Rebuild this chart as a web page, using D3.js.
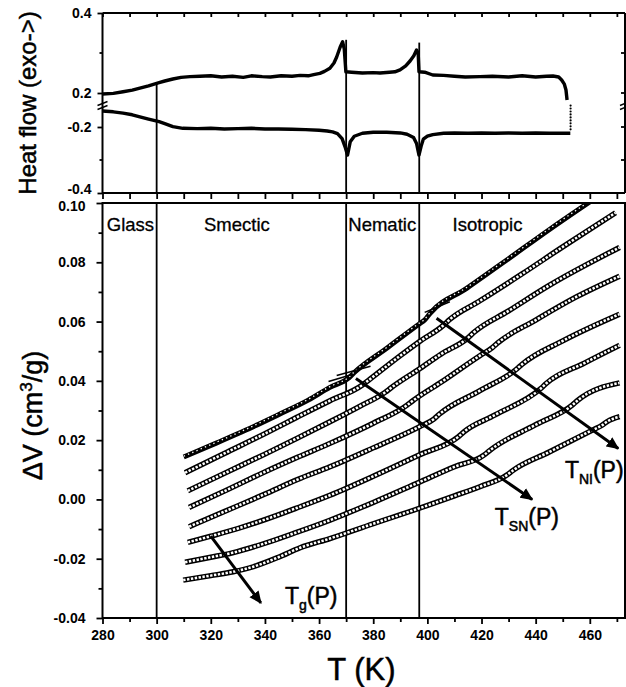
<!DOCTYPE html>
<html><head><meta charset="utf-8">
<script src="https://cdn.jsdelivr.net/npm/d3@7"></script>
<style>
html,body{margin:0;padding:0;background:#fff;}
svg text{font-family:"Liberation Sans",Arial,Helvetica,sans-serif;fill:#000;}
</style></head>
<body><svg id="chart" width="626" height="687"></svg>
<script>
// ---------- DATA ----------
const xTickLabels = [280, 300, 320, 340, 360, 380, 400, 420, 440, 460];
const xMinorTicks = [290, 310, 330, 350, 370, 390, 410, 430, 450, 470];
const dvTickLabels = [-0.04, -0.02, 0.00, 0.02, 0.04, 0.06, 0.08, 0.10];
const dvMinorTicks = [-0.03, -0.01, 0.01, 0.03, 0.05, 0.07, 0.09];
const hfUpperTicks = [0.2, 0.4];
const hfLowerTicks = [-0.4, -0.2];
const hfMinorTicks = [0.3, -0.3];
const transitionT = [300, 370, 397];          // vertical lines (K)
const transitionTopHF = [0.226, 0.333, 0.326]; // where the lines start in the DSC panel
const phaseNames = ["Glass", "Smectic", "Nematic", "Isotropic"];
const phaseNameT = [281.6, 317.5, 370.8, 409.3];

// DSC heating trace (upper branch)
const heatT = [280, 284, 287.6, 291, 293.8, 297, 300.9, 303, 306, 309, 312.3, 316, 320, 324, 328, 332, 335, 339, 342, 346, 350, 353, 356, 358, 360.3, 362, 364, 365.5, 366.5, 367.8, 368.7, 369.3, 369.9, 372, 376, 380, 382.5, 386, 388, 389.9, 392, 393.6, 395, 396, 396.6, 396.9, 399, 402, 406, 410, 414, 419.4, 424, 430, 435, 440, 444, 446.4, 448.5, 449.6, 450.6, 451.2, 451.6];
const heatHF = [0.1975, 0.199, 0.203, 0.207, 0.212, 0.218, 0.226, 0.230, 0.235, 0.239, 0.241, 0.242, 0.243, 0.240, 0.242, 0.239, 0.243, 0.241, 0.240, 0.243, 0.242, 0.244, 0.243, 0.246, 0.249, 0.254, 0.262, 0.275, 0.290, 0.315, 0.328, 0.31, 0.253, 0.252, 0.250, 0.251, 0.250, 0.252, 0.253, 0.258, 0.268, 0.280, 0.293, 0.3075, 0.30, 0.253, 0.252, 0.245, 0.244, 0.242, 0.240, 0.241, 0.242, 0.240, 0.243, 0.240, 0.242, 0.2425, 0.240, 0.2325, 0.222, 0.2075, 0.1825];
// DSC cooling trace (lower branch)
const coolT = [280, 284, 287.6, 291, 293.8, 297, 300.9, 303, 306, 309.7, 315, 320, 325, 330, 335, 340, 345, 350, 355, 360, 363, 365, 366.8, 368.5, 369.6, 370.5, 371.5, 373, 376, 380, 385, 390, 392.5, 394.9, 396, 396.9, 397.8, 398.5, 400, 402, 406, 410, 415, 420, 425, 430, 435, 440, 445, 450, 452.8];
const coolHF = [-0.1515, -0.154, -0.158, -0.163, -0.169, -0.176, -0.184, -0.190, -0.199, -0.204, -0.205, -0.204, -0.206, -0.205, -0.204, -0.206, -0.206, -0.207, -0.208, -0.210, -0.212, -0.215, -0.220, -0.235, -0.26, -0.285, -0.245, -0.228, -0.219, -0.216, -0.216, -0.218, -0.222, -0.232, -0.250, -0.285, -0.255, -0.237, -0.228, -0.223, -0.219, -0.218, -0.219, -0.218, -0.219, -0.218, -0.219, -0.218, -0.219, -0.219, -0.219];
// fast transient points at the end of the run
const jumpT = [452.9, 452.9, 452.9, 452.9, 452.9, 452.9, 452.9, 452.9, 452.9];
const jumpHF = [-0.135, -0.144, -0.153, -0.162, -0.171, -0.180, -0.189, -0.198, -0.207];

// PVT isobars, dV (cm3/g) vs T (K), top = lowest pressure
const iso1T = [310, 322, 333, 345, 356, 364, 371, 373, 385, 397, 399, 401, 414.5, 430, 445, 461];
const iso1V = [0.0143, 0.0190, 0.0234, 0.0286, 0.0335, 0.0378, 0.0410, 0.0428, 0.0510, 0.0592, 0.0605, 0.0628, 0.0712, 0.0812, 0.0910, 0.1010];
const iso2T = [310.5, 325, 340, 352, 364, 376, 378, 390, 397, 406, 408, 419.4, 435, 450, 469.5];
const iso2V = [0.0090, 0.0155, 0.0222, 0.0278, 0.0333, 0.0386, 0.0400, 0.0485, 0.0532, 0.0588, 0.0605, 0.0670, 0.0761, 0.0852, 0.0967];
const iso3T = [311.5, 325, 340, 352, 364, 375, 384.5, 386.5, 397, 405, 415, 417, 430, 445, 471];
const iso3V = [0.0029, 0.0088, 0.0153, 0.0207, 0.0262, 0.0314, 0.0362, 0.0376, 0.0440, 0.0490, 0.0545, 0.0562, 0.0636, 0.0722, 0.0850];
const iso4T = [312, 325, 340, 352, 364, 380, 392.5, 394.5, 405, 419.4, 424, 426, 440, 455, 471];
const iso4V = [-0.0027, 0.0028, 0.0093, 0.0142, 0.0189, 0.0257, 0.0318, 0.0332, 0.0395, 0.0485, 0.0512, 0.0528, 0.0605, 0.0683, 0.0753];
const iso5T = [312, 325, 340, 352, 364, 380, 397, 402.5, 404.5, 419.4, 433, 435, 450, 471];
const iso5V = [-0.0092, -0.0041, 0.0018, 0.0067, 0.0110, 0.0174, 0.0245, 0.0272, 0.0288, 0.0367, 0.0440, 0.0456, 0.0535, 0.0625];
const iso6T = [311.5, 320, 330, 340, 352, 364, 380, 397, 411.5, 413.5, 425, 442, 444, 458, 471];
const iso6V = [-0.0145, -0.0124, -0.0098, -0.0068, -0.0028, 0.0014, 0.0078, 0.0150, 0.0212, 0.0228, 0.0285, 0.0375, 0.0392, 0.0460, 0.0520];
const iso7T = [310.5, 320, 328, 340, 352, 364, 380, 397, 410, 421, 423, 440, 453.5, 455.5, 471];
const iso7V = [-0.0212, -0.0195, -0.0180, -0.0148, -0.0110, -0.0070, -0.0010, 0.0058, 0.0110, 0.0150, 0.0165, 0.0252, 0.0318, 0.0334, 0.0393];
const iso8T = [309.8, 320, 328.3, 335.7, 345, 353, 364, 380, 397, 410, 419.4, 429.5, 431.5, 445, 461, 464.5, 466.5, 471];
const iso8V = [-0.0272, -0.0257, -0.0244, -0.0227, -0.0195, -0.0163, -0.0132, -0.0082, -0.0030, 0.0012, 0.0043, 0.0083, 0.0097, 0.0160, 0.0234, 0.0250, 0.0263, 0.0279];

// transition-shift arrows [T0, dV0, T1, dV1]
const arrowTg = [320, -0.0124, 338.5, -0.0349];
const arrowTSN = [373.6, 0.0408, 438.7, 0.0000];
const arrowTNI = [403.4, 0.0611, 470.5, 0.0172];
// short extrapolation segments on the top isobar
const fitSegs = [[366.5, 0.0418, 379.0, 0.0449], [363.5, 0.0398, 372.5, 0.0422], [399.0, 0.0631, 408.3, 0.0667]];
// arrow labels: [T, dV, main, subscript]
const arrowLabels = [[347.4, -0.0353, "T", "g"], [424.9, -0.0086, "T", "SN"], [450.8, 0.0071, "T", "NI"]];

// ---------- SCALES ----------
const svg = d3.select("#chart");
const x = d3.scaleLinear([280, 473], [102.5, 625]);
const yB = d3.scaleLinear([-0.04, 0.10], [618, 203]);
const yU = d3.scaleLinear([0.2, 0.4], [93, 13]);     // DSC upper segment
const yL = d3.scaleLinear([-0.4, -0.2], [193, 127]); // DSC lower segment
const breakY = 105.5;

const defs = svg.append("defs");
defs.append("clipPath").attr("id", "clipB").append("rect")
  .attr("x", x(280)).attr("y", yB(0.10)).attr("width", x(473) - x(280)).attr("height", yB(-0.04) - yB(0.10));
defs.append("marker").attr("id", "ah").attr("viewBox", "0 0 10 10").attr("refX", 9).attr("refY", 5)
  .attr("markerWidth", 4.2).attr("markerHeight", 4.2).attr("orient", "auto").attr("markerUnits", "strokeWidth")
  .append("path").attr("d", "M0,0.5 L10,5 L0,9.5 Z").attr("fill", "#000");

const fmt2 = d => d.toFixed(2);
const fmt1 = d => d.toFixed(1);

function styleAxis(g, fs) {
  g.select(".domain").remove();
  g.selectAll("line").attr("stroke", "#000").attr("stroke-width", 1.8);
  g.selectAll("text").attr("font-size", fs).attr("font-weight", "bold").attr("font-family", '"Liberation Sans",Arial,sans-serif');
}

// ---------- TOP (DSC) PANEL ----------
const topG = svg.append("g");
transitionT.forEach((t, i) => {
  topG.append("line").attr("x1", x(t)).attr("x2", x(t)).attr("y1", yU(transitionTopHF[i])).attr("y2", yL(-0.4))
    .attr("stroke", "#000").attr("stroke-width", 1.8);
});
const lineU = d3.line().x((d, i) => x(heatT[i])).y((d) => yU(d));
topG.append("path").attr("d", lineU(heatHF)).attr("fill", "none").attr("stroke", "#000").attr("stroke-width", 3.4).attr("stroke-linejoin", "round");
const lineL = d3.line().x((d, i) => x(coolT[i])).y((d) => yL(d));
topG.append("path").attr("d", lineL(coolHF)).attr("fill", "none").attr("stroke", "#000").attr("stroke-width", 3.4).attr("stroke-linejoin", "round");
topG.selectAll("circle.jump").data(jumpHF).join("circle").attr("cx", (d, i) => x(jumpT[i])).attr("cy", d => yL(d)).attr("r", 1.1).attr("fill", "#000");

topG.append("line").attr("x1", x(280)).attr("x2", x(473)).attr("y1", yU(0.4)).attr("y2", yU(0.4)).attr("stroke", "#000").attr("stroke-width", 2);
topG.append("line").attr("x1", x(280)).attr("x2", x(473)).attr("y1", yL(-0.4)).attr("y2", yL(-0.4)).attr("stroke", "#000").attr("stroke-width", 2);
topG.append("line").attr("x1", x(280)).attr("x2", x(280)).attr("y1", yU(0.4)).attr("y2", yL(-0.4)).attr("stroke", "#000").attr("stroke-width", 2);
topG.append("line").attr("x1", x(473)).attr("x2", x(473)).attr("y1", yU(0.4)).attr("y2", yL(-0.4)).attr("stroke", "#000").attr("stroke-width", 2);
[x(280), x(473)].forEach(bx => {
  [-2, 2].forEach(o => {
    topG.append("path").attr("d", `M${bx - 5},${breakY + o + 2} L${bx + 5},${breakY + o - 2}`).attr("stroke", "#000").attr("stroke-width", 1.4);
  });
});
const tAx1 = topG.append("g").attr("transform", `translate(${x(280)},0)`).call(d3.axisLeft(yU).tickValues(hfUpperTicks).tickFormat(fmt1).tickSize(5).tickPadding(6));
styleAxis(tAx1, 14);
const tAx2 = topG.append("g").attr("transform", `translate(${x(280)},0)`).call(d3.axisLeft(yL).tickValues(hfLowerTicks).tickFormat(fmt1).tickSize(5).tickPadding(6));
styleAxis(tAx2, 14);
tAx2.selectAll("text").filter(d => d === -0.4).attr("dy", "0.05em");
[yU(0.3), yL(-0.3)].forEach(yy => {
  topG.append("line").attr("x1", x(280) - 3).attr("x2", x(280)).attr("y1", yy).attr("y2", yy).attr("stroke", "#000").attr("stroke-width", 1.8);
  topG.append("line").attr("x1", x(473) - 4).attr("x2", x(473)).attr("y1", yy).attr("y2", yy).attr("stroke", "#000").attr("stroke-width", 1.8);
});
[yU(0.2), yL(-0.2)].forEach(yy => {
  topG.append("line").attr("x1", x(473) - 4).attr("x2", x(473)).attr("y1", yy).attr("y2", yy).attr("stroke", "#000").attr("stroke-width", 1.8);
});
const tAx3 = topG.append("g").attr("transform", `translate(0,${yU(0.4)})`).call(d3.axisBottom(x).tickValues(xTickLabels.concat(xMinorTicks)).tickFormat("").tickSize(4));
styleAxis(tAx3, 14);
const tAx4 = topG.append("g").attr("transform", `translate(0,${yL(-0.4)})`).call(d3.axisBottom(x).tickValues(xTickLabels.concat(xMinorTicks)).tickFormat("").tickSize(6));
styleAxis(tAx4, 14);

topG.append("text").attr("transform", `translate(36,${(yU(0.4) + yL(-0.4)) / 2}) rotate(-90)`).attr("text-anchor", "middle")
  .attr("font-size", 24).attr("stroke", "#000").attr("stroke-width", 0.5).text("Heat flow (exo->)");

// ---------- BOTTOM (PVT) PANEL ----------
const bot = svg.append("g");
transitionT.forEach(t => {
  bot.append("line").attr("x1", x(t)).attr("x2", x(t)).attr("y1", yB(0.10)).attr("y2", yB(-0.04)).attr("stroke", "#000").attr("stroke-width", 1.8);
});
const isoT = [iso1T, iso2T, iso3T, iso4T, iso5T, iso6T, iso7T, iso8T];
const isoV = [iso1V, iso2V, iso3V, iso4V, iso5V, iso6V, iso7V, iso8V];
const plot = bot.append("g").attr("clip-path", "url(#clipB)");
isoV.forEach((vals, k) => {
  const ln = d3.line().x((d, i) => x(isoT[k][i])).y(d => yB(d)).curve(d3.curveMonotoneX);
  const d = ln(vals);
  if (k === 0) {
    plot.append("path").attr("d", d).attr("fill", "none").attr("stroke", "#000").attr("stroke-width", 5);
    plot.append("path").attr("d", d).attr("fill", "none").attr("stroke", "#fff").attr("stroke-width", 1.3)
      .attr("stroke-dasharray", "1.4,3.2").attr("transform", "translate(0,-0.8)");
  } else {
    plot.append("path").attr("d", d).attr("fill", "none").attr("stroke", "#000").attr("stroke-width", 5.4);
    plot.append("path").attr("d", d).attr("fill", "none").attr("stroke", "#fff").attr("stroke-width", 2.5)
      .attr("stroke-dasharray", "2.4,1.5");
  }
});
fitSegs.forEach(s => {
  plot.append("line").attr("x1", x(s[0])).attr("y1", yB(s[1])).attr("x2", x(s[2])).attr("y2", yB(s[3]))
    .attr("stroke", "#000").attr("stroke-width", 1.6);
});
[arrowTg, arrowTSN, arrowTNI].forEach(a => {
  bot.append("line").attr("x1", x(a[0])).attr("y1", yB(a[1])).attr("x2", x(a[2])).attr("y2", yB(a[3]))
    .attr("stroke", "#000").attr("stroke-width", 3).attr("marker-end", "url(#ah)");
});
arrowLabels.forEach(l => {
  const t = bot.append("text").attr("x", x(l[0])).attr("y", yB(l[1])).attr("font-size", 23)
    .attr("stroke", "#000").attr("stroke-width", 0.5);
  t.append("tspan").text(l[2]);
  t.append("tspan").attr("font-size", 14).attr("dy", 6).text(l[3]);
  t.append("tspan").attr("dy", -6).text("(P)");
});
phaseNames.forEach((n, i) => {
  bot.append("text").attr("x", x(phaseNameT[i])).attr("y", 231).attr("font-size", 18.5)
    .attr("stroke", "#000").attr("stroke-width", 0.3).text(n);
});
bot.append("rect").attr("x", x(280)).attr("y", yB(0.10)).attr("width", x(473) - x(280)).attr("height", yB(-0.04) - yB(0.10))
  .attr("fill", "none").attr("stroke", "#000").attr("stroke-width", 2);
const bAx1 = bot.append("g").attr("transform", `translate(${x(280)},0)`).call(d3.axisLeft(yB).tickValues(dvTickLabels).tickFormat(fmt2).tickSize(6).tickPadding(11));
styleAxis(bAx1, 14);
bAx1.selectAll("text").filter(d => d === 0.10).attr("dy", "0.5em");
const bAx2 = bot.append("g").attr("transform", `translate(${x(280)},0)`).call(d3.axisLeft(yB).tickValues(dvMinorTicks).tickFormat("").tickSize(4));
styleAxis(bAx2, 14);
const bAx3 = bot.append("g").attr("transform", `translate(0,${yB(-0.04)})`).call(d3.axisBottom(x).tickValues(xTickLabels).tickFormat(d3.format("d")).tickSize(6).tickPadding(6));
styleAxis(bAx3, 14);
const bAx4 = bot.append("g").attr("transform", `translate(0,${yB(-0.04)})`).call(d3.axisBottom(x).tickValues(xMinorTicks).tickFormat("").tickSize(4));
styleAxis(bAx4, 14);

svg.append("text").attr("x", x(375.6)).attr("y", 680).attr("text-anchor", "middle").attr("font-size", 31)
  .attr("stroke", "#000").attr("stroke-width", 0.5).text("T (K)");
const yl = svg.append("text").attr("transform", `translate(42,${(yB(0.10) + yB(-0.04)) / 2 + 5}) rotate(-90)`).attr("text-anchor", "middle").attr("font-size", 27)
  .attr("stroke", "#000").attr("stroke-width", 0.5);
yl.append("tspan").text("ΔV (cm");
yl.append("tspan").attr("font-size", 17).attr("dy", -10).text("3");
yl.append("tspan").attr("dy", 10).text("/g)");
</script></body></html>
